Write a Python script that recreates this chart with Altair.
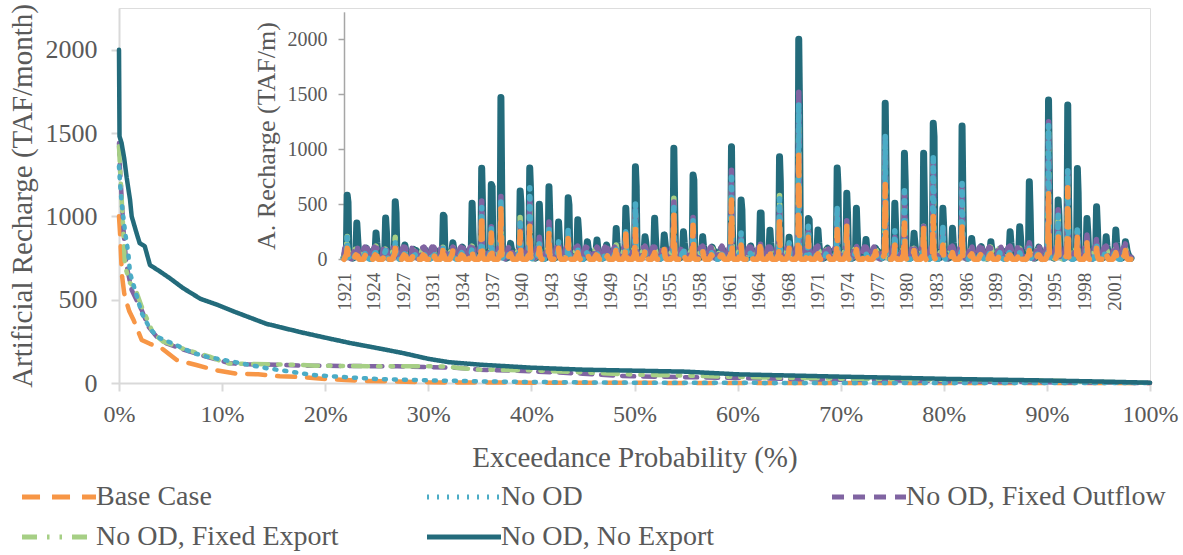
import altair as alt
import pandas as pd

# ---------------- series definitions ----------------
SERIES = ["Base Case", "No OD", "No OD, Fixed Outflow", "No OD, Fixed Export", "No OD, No Export"]
COLORS = ["#F79646", "#4BACC6", "#8064A2", "#A6CF85", "#236B7B"]
DASHES = [[18, 12], [2, 8], [12, 9], [15, 10, 2.5, 10, 2.5, 10], [1, 0]]

# ---------------- main chart: exceedance curves ----------------
BASE_P = [0, 0.1, 0.2, 0.3, 0.5, 0.75, 1.0, 1.4, 2.2, 3.0, 4.1, 5.6, 7.5, 9.3, 11.4, 13.5, 15.6, 17.6, 19.7, 22, 24, 27, 30, 35, 40, 50, 60, 70, 80, 90, 100]
BASE_V = [1000, 900, 760, 640, 540, 480, 430, 380, 258, 235, 210, 138, 108, 78, 56, 52, 40, 36, 25, 18, 12, 9, 4, 3, 2, 1, 0, 0, 0, 0, 0]

NOOD_P = [0, 0.1, 0.26, 0.6, 0.9, 1.07, 1.55, 2.2, 2.9, 3.65, 5.1, 7.2, 8.5, 11.7, 14.2, 16.6, 18.8, 21.2, 25, 30, 35, 40, 45, 50, 60, 70, 80, 90, 100]
NOOD_V = [1300, 1200, 1080, 900, 780, 660, 558, 420, 338, 278, 240, 180, 158, 120, 90, 68, 48, 38, 24, 16, 10, 6, 4, 2, 1, 0, 0, 0, 0]

OUTF_P = [0, 0.1, 0.26, 0.5, 0.75, 1.23, 1.7, 2.2, 2.85, 3.65, 4.6, 5.9, 7.9, 10.8, 12.5, 15.3, 17.6, 22.4, 27, 30, 33, 35, 40, 45, 48, 50, 55, 60, 65, 70, 80, 90, 100]
OUTF_V = [1440, 1280, 1110, 860, 700, 558, 498, 438, 338, 278, 238, 208, 168, 118, 112, 110, 104, 102, 100, 96, 90, 80, 70, 56, 44, 40, 35, 30, 24, 20, 10, 4, 0]

EXPO_P = [0, 0.16, 0.35, 0.58, 1.07, 1.55, 2.2, 3.3, 4.3, 6.6, 8.8, 10.4, 12.5, 14.8, 16.9, 19, 22, 26, 30, 32, 33, 35, 40, 45, 50, 55, 60, 70, 80, 90, 100]
EXPO_V = [1420, 1220, 1000, 700, 600, 570, 458, 300, 248, 198, 158, 118, 114, 112, 110, 104, 102, 100, 100, 98, 90, 80, 76, 64, 50, 44, 36, 26, 20, 14, 0]

NOEX_P = [0, 0.05, 0.25, 0.5, 0.75, 1.07, 1.23, 1.7, 2.0, 2.5, 3.0, 4.0, 4.9, 6.2, 7.9, 9.5, 11.1, 14.3, 17.6, 20, 22.4, 25, 27.5, 30, 32, 35, 40, 45, 50, 55, 60, 65, 70, 75, 80, 85, 90, 95, 100]
NOEX_V = [2000, 1480, 1440, 1350, 1230, 1100, 1000, 900, 840, 820, 708, 668, 630, 570, 505, 470, 430, 355, 305, 272, 240, 210, 180, 145, 125, 110, 92, 80, 74, 68, 52, 45, 38, 32, 25, 20, 15, 9, 2]

MAIN_CURVES = [(BASE_P, BASE_V), (NOOD_P, NOOD_V), (OUTF_P, OUTF_V), (EXPO_P, EXPO_V), (NOEX_P, NOEX_V)]

# ---------------- inset: monthly recharge, water years 1922-2003 ----------------
WATER_YEARS = list(range(1922, 2004))
INSET_YEAR_LABELS = ["1921", "1924", "1927", "1931", "1934", "1937", "1940", "1943", "1946", "1949",
                     "1952", "1955", "1958", "1961", "1964", "1968", "1971", "1974", "1977", "1980",
                     "1983", "1986", "1989", "1992", "1995", "1998", "2001"]

# annual peak month values (TAF/month)
NOEX_PEAK = [583, 330, 100, 240, 375, 524, 130, 60, 80, 50, 400, 150, 110, 510, 827, 680, 1470, 145, 620, 830,
             500, 660, 340, 560, 360, 160, 175, 130, 280, 465, 842, 205, 373, 220, 1010, 250, 766, 205, 110, 100,
             1024, 540, 120, 420, 265, 933, 200, 2000, 372, 266, 100, 830, 600, 464, 180, 100, 1418, 510, 963, 236,
             963, 1236, 464, 282, 1211, 190, 115, 160, 90, 250, 296, 705, 110, 1448, 540, 1403, 826, 372, 478, 205,
             266, 160]
NOEX_SECOND = [520, 200, 60, 150, 250, 420, 90, 40, 50, 30, 390, 100, 80, 266, 500, 660, 630, 100, 510, 630,
               300, 400, 200, 494, 250, 100, 100, 90, 150, 300, 660, 150, 200, 150, 494, 150, 720, 120, 80, 70,
               300, 450, 80, 420, 150, 705, 120, 1357, 360, 150, 70, 675, 400, 250, 100, 60, 842, 300, 705, 150,
               500, 1115, 300, 150, 585, 120, 80, 100, 60, 150, 200, 433, 80, 826, 400, 540, 600, 250, 300, 120,
               150, 130]
OUTF_PEAK = [120, 90, 100, 100, 90, 100, 110, 110, 110, 110, 100, 110, 100, 140, 530, 300, 600, 110, 330, 560,
             200, 340, 150, 250, 120, 120, 110, 100, 130, 250, 480, 120, 110, 110, 520, 100, 380, 120, 120, 120,
             810, 200, 110, 150, 110, 500, 120, 1520, 250, 120, 110, 450, 350, 120, 110, 110, 1100, 200, 640, 120,
             300, 900, 280, 120, 680, 120, 100, 100, 120, 120, 120, 150, 120, 1250, 450, 800, 250, 220, 200, 120,
             130, 140]
NOOD_PEAK = [200, 60, 40, 60, 80, 150, 40, 30, 30, 30, 100, 60, 50, 100, 470, 290, 540, 60, 360, 650,
             150, 300, 160, 280, 90, 50, 60, 40, 100, 250, 510, 80, 60, 80, 500, 100, 350, 70, 40, 40,
             780, 240, 50, 120, 60, 550, 150, 1420, 300, 60, 40, 480, 300, 100, 50, 30, 1130, 260, 660, 80,
             280, 950, 310, 60, 690, 50, 40, 50, 30, 40, 60, 100, 40, 1220, 400, 810, 300, 150, 150, 60,
             60, 80]
EXPO_PEAK = [220, 80, 60, 120, 100, 200, 60, 60, 80, 60, 130, 120, 80, 120, 420, 250, 500, 80, 380, 500,
             150, 280, 120, 230, 100, 80, 80, 70, 130, 200, 450, 100, 90, 100, 555, 90, 330, 100, 100, 80,
             700, 180, 80, 130, 90, 585, 100, 1350, 250, 90, 80, 420, 300, 100, 80, 80, 1050, 200, 600, 100,
             300, 880, 250, 100, 650, 100, 80, 150, 100, 100, 100, 120, 90, 1150, 400, 750, 250, 180, 160, 100,
             100, 100]
BASE_PEAK = [100, 20, 20, 20, 50, 100, 30, 20, 10, 10, 115, 80, 30, 80, 400, 240, 460, 50, 250, 300,
             100, 240, 100, 190, 60, 30, 30, 20, 120, 230, 270, 80, 60, 90, 400, 50, 310, 80, 30, 40,
             540, 130, 40, 160, 90, 370, 100, 990, 200, 50, 30, 270, 300, 90, 60, 70, 680, 130, 330, 80,
             280, 390, 130, 60, 300, 50, 50, 50, 30, 40, 60, 80, 40, 600, 240, 650, 200, 150, 100, 60,
             60, 80]

# typical level of the other months of a water year (Oct..Sep), read from the inset's low band
NOEX_TYPICAL = [15, 35, 70, 90, 100, 90, 80, 55, 35, 25, 15, 10]
OUTF_TYPICAL = [40, 100, 110, 100, 100, 100, 60, 25, 10, 5, 10, 20]
EXPO_TYPICAL = [30, 70, 90, 80, 80, 80, 50, 20, 10, 5, 10, 15]
NOOD_TYPICAL = [5, 20, 50, 60, 60, 40, 15, 5, 0, 0, 0, 0]
BASE_TYPICAL = [0, 10, 30, 40, 40, 30, 10, 0, 0, 0, 0, 0]

INSET_SERIES = [
    ("Base Case", BASE_PEAK, None, BASE_TYPICAL),
    ("No OD", NOOD_PEAK, None, NOOD_TYPICAL),
    ("No OD, Fixed Outflow", OUTF_PEAK, None, OUTF_TYPICAL),
    ("No OD, Fixed Export", EXPO_PEAK, None, EXPO_TYPICAL),
    ("No OD, No Export", NOEX_PEAK, NOEX_SECOND, NOEX_TYPICAL),
]

# ---------------- tables ----------------
main_rows = []
for name, (ps, vs) in zip(SERIES, MAIN_CURVES):
    for p, v in zip(ps, vs):
        main_rows.append({"series": name, "p": p, "v": v})
main_df = pd.DataFrame(main_rows)

inset_rows = []
for name, peak, second, typical in INSET_SERIES:
    for i, wy in enumerate(WATER_YEARS):
        for k in range(12):
            v = typical[k]
            if k == 4:
                v = peak[i]
            elif k == 5 and second is not None:
                v = second[i]
            inset_rows.append({"series": name, "m": i * 12 + k, "v": v})
inset_df = pd.DataFrame(inset_rows)

# ---------------- styling ----------------
FONT = "Liberation Serif, Times New Roman, serif"
TXT = "#595959"

W, H = 1031, 375
legend = alt.Legend(
    title=None, orient="none", legendX=-74, legendY=475, columns=3, direction="horizontal",
    symbolType="M-4,0H4", symbolSize=342, symbolStrokeWidth=5, symbolFillColor="transparent",
    labelFont=FONT, labelFontSize=28, labelColor=TXT, labelOffset=23, labelLimit=500,
    columnPadding=61, rowPadding=12, gridAlign="all", padding=0,
)
color_enc = alt.Color("series:N", scale=alt.Scale(domain=SERIES, range=COLORS), legend=legend)
dash_enc = alt.StrokeDash("series:N", scale=alt.Scale(domain=SERIES, range=DASHES), legend=legend)

main_x = alt.X("p:Q", scale=alt.Scale(domain=[0, 100], nice=False),
               axis=alt.Axis(values=list(range(0, 101, 10)), labelExpr="datum.value + '%'",
                             title="Exceedance Probability (%)", grid=False, labelFlush=False,
                             labelFont=FONT, labelFontSize=24, labelColor=TXT, labelPadding=11,
                             titleFont=FONT, titleFontSize=29, titleColor=TXT, titleFontWeight="normal",
                             titlePadding=17, tickSize=8, tickColor="#D9D9D9", tickWidth=2,
                             domainColor="#D9D9D9", domainWidth=2))
main_y = alt.Y("v:Q", scale=alt.Scale(domain=[0, 2250], nice=False),
               axis=alt.Axis(values=[0, 500, 1000, 1500, 2000], format="d", title="Artificial Recharge (TAF/month)",
                             grid=False, labelFont=FONT, labelFontSize=26, labelColor=TXT, labelPadding=14,
                             labelFlush=False,
                             titleFont=FONT, titleFontSize=29, titleColor=TXT, titleFontWeight="normal",
                             titlePadding=8, tickSize=8, tickColor="#D9D9D9", tickWidth=2,
                             domainColor="#D9D9D9", domainWidth=2))

inset_x = alt.X("m:Q", scale=alt.Scale(domain=[0, 983], range=[225, 1012], nice=False),
                axis=alt.Axis(orient="bottom", offset=-123.7, values=list(range(0, 963, 37)),
                              labelExpr="[" + ",".join("'" + s + "'" for s in INSET_YEAR_LABELS) + "][round(datum.value / 37)]",
                              labelAngle=-90, title=None, grid=False, ticks=False, labelFlush=False,
                              labelFont=FONT, labelFontSize=19, labelColor=TXT, labelPadding=13,
                              domainColor="#A6A6A6", domainWidth=1.5))
inset_y = alt.Y("v:Q", scale=alt.Scale(domain=[0, 2250], range=[251.3, 3.8], nice=False),
                axis=alt.Axis(orient="left", offset=-225, values=[0, 500, 1000, 1500, 2000], format="d",
                              title="A. Recharge (TAF/m)", grid=False, labelFlush=False,
                              labelFont=FONT, labelFontSize=20, labelColor=TXT, labelPadding=11,
                              titleFont=FONT, titleFontSize=26, titleColor=TXT, titleFontWeight="normal",
                              titlePadding=8, tickSize=6, tickColor="#A6A6A6", tickWidth=1.5,
                              domainColor="#A6A6A6", domainWidth=1.5))

MAIN_ORDER = ["Base Case", "No OD, Fixed Outflow", "No OD, Fixed Export", "No OD", "No OD, No Export"]
INSET_ORDER = ["No OD, No Export", "No OD, Fixed Export", "No OD, Fixed Outflow", "No OD", "Base Case"]

main_layers = [
    alt.Chart(main_df).transform_filter(alt.datum.series == s)
    .mark_line(strokeWidth=4.5, strokeCap="round", strokeJoin="round")
    .encode(x=main_x, y=main_y, color=color_enc, strokeDash=dash_enc)
    for s in MAIN_ORDER
]
inset_layers = [
    alt.Chart(inset_df).transform_filter(alt.datum.series == s)
    .mark_line(strokeWidth=7 if s == "No OD, No Export" else 5.5, strokeCap="round", strokeJoin="round")
    .encode(x=inset_x, y=inset_y, color=color_enc, strokeDash=dash_enc)
    for s in INSET_ORDER
]

main_group = alt.layer(*main_layers)
inset_group = alt.layer(*inset_layers)

chart = (
    alt.layer(main_group, inset_group)
    .resolve_scale(x="independent", y="independent")
    .properties(width=W, height=H, autosize=alt.AutoSizeParams(type="none"),
                padding={"left": 119, "top": 8, "right": 33, "bottom": 172})
    .configure_view(stroke="#A6A6A6", strokeWidth=1.5)
    .configure(background="white", font=FONT)
)

chart.save("out.html", embed_options={"renderer": "svg", "actions": False})
